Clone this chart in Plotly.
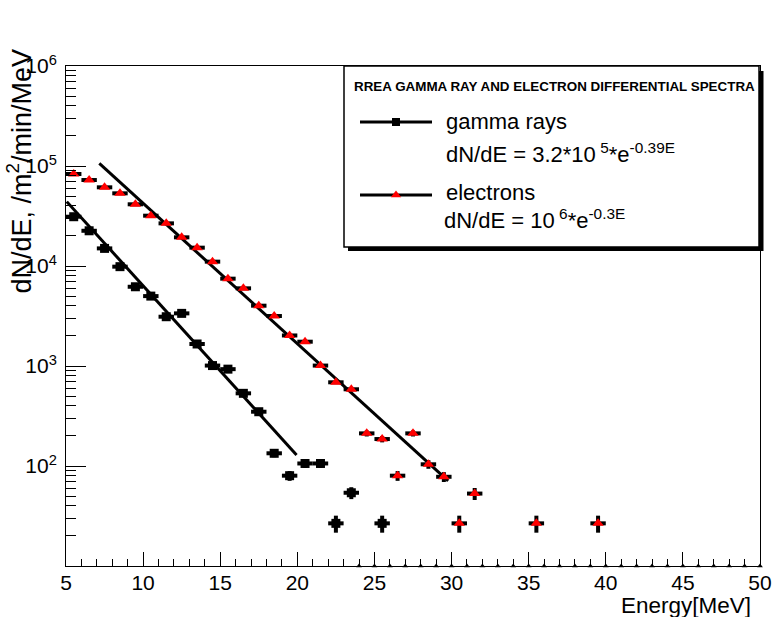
import numpy as np
import plotly.graph_objects as go

# ---------------- data ----------------
gamma_E = [5.5, 6.5, 7.5, 8.5, 9.5, 10.5, 11.5, 12.5, 13.5, 14.5, 15.5, 16.5,
           17.5, 18.5, 19.5, 20.5, 21.5, 22.5, 23.5, 25.5]
gamma_N = [31100, 22500, 15000, 9850, 6200, 5000, 3110, 3360, 1660, 1010, 930, 533,
           349, 134, 80, 106, 106, 26.7, 54, 26.7]

elec_E = [5.5, 6.5, 7.5, 8.5, 9.5, 10.5, 11.5, 12.5, 13.5, 14.5, 15.5, 16.5,
          17.5, 18.5, 19.5, 20.5, 21.5, 22.5, 23.5, 24.5, 25.5, 26.5, 27.5, 28.5,
          29.5, 30.5, 31.5, 35.5, 39.5]
elec_N = [83200, 72400, 61200, 53300, 41400, 31850, 26700, 19350, 15250, 11050, 7470, 5980,
          4010, 3160, 2020, 1750, 1010, 687, 585, 212, 186, 80, 212, 104,
          78, 26.7, 53, 26.7, 26.7]

bin_half_width = 0.5

# fitted lines (end points)
gamma_fit_E = [5.05, 19.95]
gamma_fit_N = [44000, 129]
elec_fit_E = [7.16, 29.78]
elec_fit_N = [106000, 71]

# empty bins drawn on the bottom edge
empty_E = list(range(24, 51))
axis_min = 10

x_ticks = [5, 10, 15, 20, 25, 30, 35, 40, 45, 50]
y_tickvals = [1e2, 1e3, 1e4, 1e5, 1e6]
y_ticktext = ["10<sup>2</sup>", "10<sup>3</sup>", "10<sup>4</sup>", "10<sup>5</sup>", "10<sup>6</sup>"]

FONT = "Liberation Sans, Arial, Helvetica, sans-serif"

fig = go.Figure()

# fit lines
fig.add_trace(go.Scatter(x=gamma_fit_E, y=gamma_fit_N, mode="lines",
                         line=dict(color="black", width=3), showlegend=False))
fig.add_trace(go.Scatter(x=elec_fit_E, y=elec_fit_N, mode="lines",
                         line=dict(color="black", width=3), showlegend=False))

# gamma rays
fig.add_trace(go.Scatter(
    x=gamma_E, y=gamma_N, mode="markers",
    marker=dict(symbol="square", size=9, color="black"),
    error_x=dict(type="constant", value=bin_half_width, thickness=4, width=0, color="black"),
    error_y=dict(type="data", array=np.sqrt(gamma_N), thickness=4, width=0, color="black"),
    showlegend=False))

# electrons
fig.add_trace(go.Scatter(
    x=elec_E, y=elec_N, mode="markers",
    marker=dict(symbol="triangle-up", size=10, color="red"),
    error_x=dict(type="constant", value=bin_half_width, thickness=4, width=0, color="black"),
    error_y=dict(type="data", array=np.sqrt(elec_N), thickness=4, width=0, color="black"),
    showlegend=False))

# empty bins on the axis
fig.add_trace(go.Scatter(
    x=empty_E, y=[axis_min] * len(empty_E), mode="markers",
    marker=dict(symbol="triangle-up", size=5, color="black"),
    cliponaxis=False, showlegend=False))

# ---------------- legend box (manual) ----------------
W, H, L, T = 694.0, 500.0, 66.0, 66.0
def px(xp):
    return (xp - L) / W
def py(yp):
    return (T + H - yp) / H

shapes = [
    dict(type="rect", xref="paper", yref="paper", layer="below",
         x0=px(348), x1=px(763.5), y0=py(251), y1=py(71),
         fillcolor="black", line=dict(width=0)),
    dict(type="rect", xref="paper", yref="paper", layer="below",
         x0=px(344), x1=px(759), y0=py(247), y1=py(66),
         fillcolor="white", line=dict(color="black", width=1.5)),
]
fig.update_layout(shapes=shapes)

# legend samples on overlay axes (0..1 paper-like)
leg_x = [px(360), px(432)]
fig.add_trace(go.Scatter(x=leg_x, y=[py(122)] * 2, mode="lines", xaxis="x2", yaxis="y2",
                         line=dict(color="black", width=3), showlegend=False, cliponaxis=False))
fig.add_trace(go.Scatter(x=[px(396)], y=[py(122)], mode="markers", xaxis="x2", yaxis="y2",
                         marker=dict(symbol="square", size=8, color="black"),
                         showlegend=False, cliponaxis=False))
fig.add_trace(go.Scatter(x=leg_x, y=[py(195)] * 2, mode="lines", xaxis="x2", yaxis="y2",
                         line=dict(color="black", width=3), showlegend=False, cliponaxis=False))
fig.add_trace(go.Scatter(x=[px(396)], y=[py(195)], mode="markers", xaxis="x2", yaxis="y2",
                         marker=dict(symbol="triangle-up", size=9, color="red"),
                         showlegend=False, cliponaxis=False))

ann = [
    dict(text="<b>RREA GAMMA RAY AND ELECTRON DIFFERENTIAL SPECTRA</b>",
         x=px(554), y=py(86), xanchor="center", yanchor="middle",
         font=dict(size=13.4, family=FONT, color="black")),
    dict(text="gamma rays", x=px(444), y=py(121), xanchor="left", yanchor="middle",
         font=dict(size=22, family=FONT, color="black")),
    dict(text="dN/dE = 3.2*10\u2009<sup>5</sup>*e<sup>-0.39E</sup>", x=px(444), y=py(153),
         xanchor="left", yanchor="middle", font=dict(size=22, family=FONT, color="black")),
    dict(text="electrons", x=px(444), y=py(192), xanchor="left", yanchor="middle",
         font=dict(size=22, family=FONT, color="black")),
    dict(text="dN/dE = 10\u2009<sup>6</sup>*e<sup>-0.3E</sup>", x=px(442), y=py(219),
         xanchor="left", yanchor="middle", font=dict(size=22, family=FONT, color="black")),
    # axis titles
    dict(text="Energy[MeV]", x=px(753), y=py(605), xanchor="right", yanchor="middle",
         font=dict(size=22.5, family=FONT, color="black")),
    dict(text="dN/dE, /m<sup>2</sup>/min/MeV", x=px(19), y=py(47), xanchor="center", yanchor="top",
         textangle=-90, font=dict(size=27, family=FONT, color="black")),
]
for a in ann:
    a.update(xref="paper", yref="paper", showarrow=False)
fig.update_layout(annotations=ann)

fig.update_layout(
    width=772, height=617,
    margin=dict(l=66, r=12, t=66, b=51, autoexpand=False),
    paper_bgcolor="white", plot_bgcolor="white",
    font=dict(family=FONT, color="black"),
    showlegend=False,
    xaxis=dict(range=[5, 50], tickmode="array", tickvals=x_ticks, automargin=False,
               ticks="inside", ticklen=14, tickwidth=1, tickcolor="black",
               showline=True, linecolor="black", linewidth=1, mirror=True,
               showgrid=False, zeroline=False, tickfont=dict(size=21, family=FONT),
               ticklabelstandoff=-2,
               minor=dict(dtick=1, tick0=5, ticks="inside", ticklen=7, tickwidth=1,
                          tickcolor="black", showgrid=False)),
    yaxis=dict(type="log", range=[1, 6], tickmode="array", tickvals=y_tickvals,
               ticktext=y_ticktext, automargin=False,
               ticks="inside", ticklen=20, tickwidth=1, tickcolor="black",
               showline=True, linecolor="black", linewidth=1, mirror=True,
               showgrid=False, zeroline=False, tickfont=dict(size=21, family=FONT),
               ticklabelstandoff=4,
               minor=dict(dtick="D1", ticks="inside", ticklen=10, tickwidth=1,
                          tickcolor="black", showgrid=False)),
    xaxis2=dict(range=[0, 1], overlaying="x", visible=False, fixedrange=True),
    yaxis2=dict(range=[0, 1], overlaying="y", visible=False, fixedrange=True),
)

fig.write_html("out.html")
